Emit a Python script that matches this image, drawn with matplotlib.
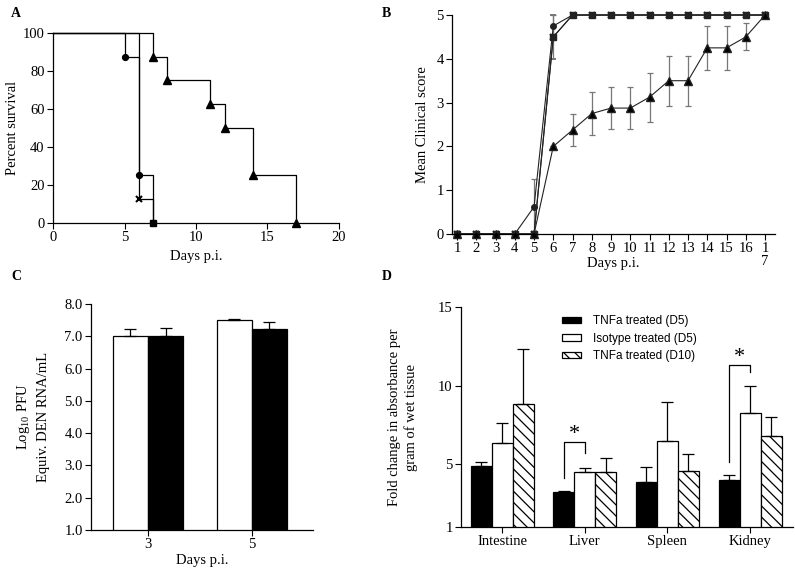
import matplotlib
matplotlib.use("Agg")
import matplotlib.pyplot as plt
import numpy as np

plt.rcParams["font.family"] = ["Liberation Serif", "DejaVu Serif"]
plt.rcParams["mathtext.fontset"] = "custom"
plt.rcParams["mathtext.rm"] = "Liberation Serif"
plt.rcParams["font.size"] = 10.5
plt.rcParams["axes.labelsize"] = 10.5
plt.rcParams["axes.linewidth"] = 0.9
plt.rcParams["hatch.linewidth"] = 0.9

# A: survival steps (day of drop, percent surviving after it)
circ_days = [0, 5, 6, 7]
circ_surv = [100, 87.5, 25, 0]
cross_days = [0, 6, 7]
cross_surv = [100, 12.5, 0]
square_days = [7]
square_surv = [0]
tri_days = [0, 7, 8, 11, 12, 14, 17]
tri_surv = [100, 87.5, 75, 62.5, 50, 25, 0]

# B: mean clinical score
score_days = list(range(1, 18))
score_labels = [str(d) for d in range(1, 17)] + ["1\n7"]
circ_score = [0, 0, 0, 0, 0.62, 4.75] + [5] * 11
circ_err = [0, 0, 0, 0, 0.63, 0.25] + [0] * 11
cross_score = [0, 0, 0, 0, 0, 4.5] + [5] * 11
cross_err = [0, 0, 0, 0, 0, 0.5] + [0] * 11
square_score = [0, 0, 0, 0, 0, 4.5] + [5] * 11
tri_score = [0, 0, 0, 0, 0, 2.0, 2.375, 2.75, 2.875, 2.875, 3.125, 3.5, 3.5,
             4.25, 4.25, 4.5, 5]
tri_err = [0, 0, 0, 0, 0, 0, 0.375, 0.5, 0.48, 0.48, 0.56, 0.57, 0.57,
           0.5, 0.5, 0.31, 0]

# C: viremia
c_days = ["3", "5"]
c_white = [7.0, 7.5]
c_white_err = [0.22, 0.02]
c_black = [7.0, 7.22]
c_black_err = [0.25, 0.23]

# D: fold change per organ
organs = ["Intestine", "Liver", "Spleen", "Kidney"]
tnf_d5 = [4.86, 3.21, 3.84, 4.01]
tnf_d5_err = [0.28, 0.10, 0.98, 0.32]
iso_d5 = [6.37, 4.50, 6.49, 8.28]
iso_d5_err = [1.27, 0.28, 2.49, 1.67]
tnf_d10 = [8.81, 4.50, 4.58, 6.77]
tnf_d10_err = [3.50, 0.91, 1.09, 1.21]
sig_groups = [1, 3]
sig_tops = [6.4, 11.3]

fig = plt.figure(figsize=(7.95, 5.71), dpi=100)


def clean(ax):
    ax.spines["top"].set_visible(False)
    ax.spines["right"].set_visible(False)
    ax.tick_params(direction="out", length=4, width=0.8, pad=2)


# ---- A
ax = fig.add_axes([0.0667, 0.6095, 0.3597, 0.3327])
clean(ax)
kw = dict(color="black", lw=0.9, clip_on=False)
ax.step(circ_days, circ_surv, where="post", **kw)
ax.step(cross_days, cross_surv, where="post", **kw)
ax.step(tri_days, tri_surv, where="post", **kw)
ax.plot(circ_days[1:-1], circ_surv[1:-1], "o", color="black", ms=4.2, clip_on=False)
ax.plot(cross_days[1:-1], cross_surv[1:-1], "x", color="black", ms=4.5, mew=1.5, clip_on=False)
ax.plot(square_days, square_surv, "s", color="black", ms=4.2, clip_on=False)
ax.plot(tri_days[1:], tri_surv[1:], "^", color="black", ms=5.5, clip_on=False, zorder=5)
ax.set_xlim(0, 20)
ax.set_ylim(0, 100)
ax.set_xticks([0, 5, 10, 15, 20])
ax.set_yticks([0, 20, 40, 60, 80, 100])
ax.set_xlabel("Days p.i.", labelpad=4)
ax.set_ylabel("Percent survival", labelpad=3)

# ---- B
ax = fig.add_axes([0.5686, 0.5902, 0.4063, 0.3835])
clean(ax)
ekw = dict(ecolor="#777777", elinewidth=0.9, capsize=2.5, capthick=0.9, clip_on=False)
ax.errorbar(score_days, circ_score, yerr=circ_err, fmt="-o", color="#222222",
            lw=0.8, ms=4, **ekw)
ax.errorbar(score_days, cross_score, yerr=cross_err, fmt="-x", color="#222222",
            lw=0.8, ms=4.5, mew=1.4, **ekw)
ax.plot(score_days, square_score, "-s", color="#222222", lw=0.8, ms=4.2, clip_on=False)
ax.errorbar(score_days, tri_score, yerr=tri_err, fmt="-^", color="#222222",
            mfc="black", lw=0.8, ms=5.5, **ekw)
ax.set_xlim(0.74, 17.52)
ax.set_ylim(0, 5)
ax.set_xticks(score_days)
ax.set_xticklabels(score_labels, va="top", linespacing=1.0)
ax.set_yticks([0, 1, 2, 3, 4, 5])
ax.set_xlabel("Days p.i.", labelpad=-8)
ax.set_ylabel("Mean Clinical score", labelpad=5)

# ---- C
ax = fig.add_axes([0.1145, 0.0718, 0.2792, 0.3958])
clean(ax)
xc = np.arange(len(c_days))
w = 0.337
ax.bar(xc - w / 2, c_white, w, bottom=0, color="white", edgecolor="black", lw=0.9,
       yerr=[np.zeros(2), c_white_err], capsize=4, error_kw=dict(elinewidth=0.9, capthick=0.9))
ax.bar(xc + w / 2, c_black, w, color="black", edgecolor="black", lw=0.9,
       yerr=[np.zeros(2), c_black_err], capsize=4, error_kw=dict(elinewidth=0.9, capthick=0.9))
ax.set_ylim(1, 8)
ax.set_xlim(-0.548, 1.587)
ax.set_xticks(xc)
ax.set_xticklabels(c_days)
ax.set_yticks(np.arange(1, 9))
ax.set_yticklabels([f"{v:.1f}" for v in range(1, 9)])
ax.set_xlabel("Days p.i.", labelpad=2)
ax.set_ylabel("Log$_{10}$ PFU\nEquiv. DEN RNA/mL", labelpad=10, linespacing=1.5)

# ---- D
ax = fig.add_axes([0.5799, 0.077, 0.4176, 0.3853])
clean(ax)
xd = np.arange(len(organs))
w = 0.254
err_kw = dict(elinewidth=0.9, capthick=0.9)
ax.bar(xd - w, tnf_d5, w, bottom=0, color="black", edgecolor="black", lw=0.9,
       yerr=[np.zeros(4), tnf_d5_err], capsize=4, error_kw=err_kw, label="TNFa treated (D5)")
ax.bar(xd, iso_d5, w, color="white", edgecolor="black", lw=0.9,
       yerr=[np.zeros(4), iso_d5_err], capsize=4, error_kw=err_kw, label="Isotype treated (D5)")
ax.bar(xd + w, tnf_d10, w, color="white", edgecolor="black", lw=0.9, hatch="\\\\\\",
       yerr=[np.zeros(4), tnf_d10_err], capsize=4, error_kw=err_kw, label="TNFa treated (D10)")
for g, top in zip(sig_groups, sig_tops):
    left_low = tnf_d5[g] + tnf_d5_err[g] + 0.8
    right_low = iso_d5[g] + iso_d5_err[g] + 0.9
    ax.plot([g - w, g - w, g, g], [left_low, top, top, right_low], color="black", lw=0.9)
    ax.text(g - w / 2, top - 0.1, "*", ha="center", va="bottom", fontsize=16)
ax.set_ylim(1, 15)
ax.set_xlim(-0.496, 3.52)
ax.set_xticks(xd)
ax.set_xticklabels(organs)
ax.set_yticks([1, 5, 10, 15])
ax.set_ylabel("Fold change in absorbance per\ngram of wet tissue", labelpad=14, linespacing=1.35)
ax.legend(loc="upper left", bbox_to_anchor=(0.28, 1.0), frameon=False,
          prop={"family": "Liberation Sans", "size": 8.5}, handlelength=1.6,
          handleheight=0.45, handletextpad=1.0, labelspacing=0.45, borderaxespad=0.3)

for label, x, y in [("A", 0.014, 0.988), ("B", 0.48, 0.988),
                    ("C", 0.014, 0.528), ("D", 0.48, 0.528)]:
    fig.text(x, y, label, fontsize=10, fontweight="bold", va="top", ha="left")

fig.savefig("out.png", dpi=100)
